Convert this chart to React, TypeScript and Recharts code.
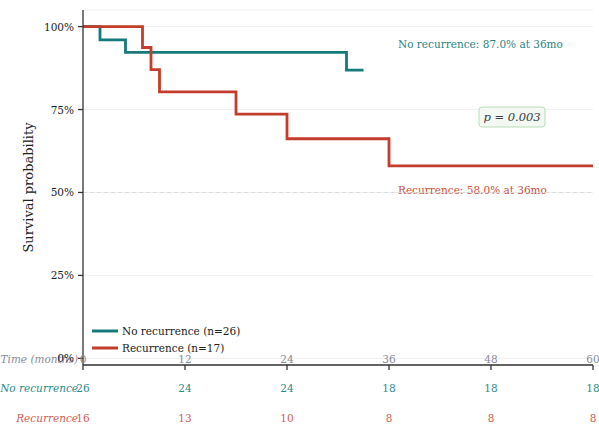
import React from 'react';
import { LineChart, Line, XAxis, YAxis, CartesianGrid, ReferenceLine } from 'recharts';

const tealTimes = [0, 2, 5, 31, 33];
const tealSurv = [1, 0.96, 0.922, 0.869, 0.869];
const redTimes = [0, 7, 8, 9, 18, 24, 36, 60];
const redSurv = [1, 0.937, 0.87, 0.803, 0.736, 0.662, 0.58, 0.58];
const timeTicks = [0, 12, 24, 36, 48, 60];
const yTicks = [0, 0.25, 0.5, 0.75, 1];
const atRiskNo = [26, 24, 24, 18, 18, 18];
const atRiskRec = [16, 13, 10, 8, 8, 8];
const seriesNames = ['No recurrence (n=26)', 'Recurrence (n=17)'];
const rowLabels = ['Time (months)', 'No recurrence', 'Recurrence'];
const annotations = ['No recurrence: 87.0% at 36mo', 'Recurrence: 58.0% at 36mo', 'p = 0.003'];

const TEAL = '#167a7a';
const RED = '#c43c2b';
const FONT = 'DejaVu Serif';
const txt = (size: number, italic = false): React.CSSProperties => ({
  fontFamily: FONT,
  fontSize: size,
  fontStyle: italic ? 'italic' : 'normal',
});

const tealData = tealTimes.map((t, i) => ({ t, s: tealSurv[i] }));
const redData = redTimes.map((t, i) => ({ t, s: redSurv[i] }));

function RiskTick(props: any) {
  const { x, y, payload } = props;
  const i = timeTicks.indexOf(payload.value);
  const rows = [
    { v: payload.value, color: '#8a8a96', dy: -11 },
    { v: atRiskNo[i], color: '#2a8a8a', dy: 18 },
    { v: atRiskRec[i], color: '#d2604e', dy: 48 },
  ];
  return (
    <g>
      {rows.map((r, k) => (
        <g key={k}>
          {i === 0 && (
            <text x={x - 5} y={y + r.dy} textAnchor="end" dominantBaseline="central"
              fill={r.color} style={txt(10.5, true)}>
              {rowLabels[k]}
            </text>
          )}
          <text x={x} y={y + r.dy} textAnchor="middle" dominantBaseline="central"
            fill={r.color} style={txt(10.5)}>
            {r.v}
          </text>
        </g>
      ))}
    </g>
  );
}

function YTick(props: any) {
  const { x, y, payload } = props;
  return (
    <text x={x} y={y} textAnchor="end" dominantBaseline="central" fill="#222" style={txt(10.5)}>
      {`${Math.round(payload.value * 100)}%`}
    </text>
  );
}

export default function App() {
  return (
    <div style={{ position: 'absolute', left: 0, top: 0, fontFamily: FONT, background: '#fff' }}>
      <LineChart width={599} height={424} margin={{ top: 10, right: 6, left: 0, bottom: 0 }}>
        <CartesianGrid horizontal vertical={false} stroke="#f0f0f0" strokeWidth={1} />
        <ReferenceLine y={0.5} stroke="#dcdcdc" strokeDasharray="4 3" />
        <XAxis
          type="number"
          dataKey="t"
          domain={[0, 60]}
          ticks={timeTicks}
          allowDataOverflow
          height={59}
          tickSize={5}
          tickMargin={0}
          axisLine={{ stroke: '#333', strokeWidth: 1.3 }}
          tickLine={{ stroke: '#333', strokeWidth: 1.3 }}
          tick={<RiskTick />}
          interval={0}
        />
        <YAxis
          type="number"
          domain={[-0.02, 1.05]}
          ticks={yTicks}
          allowDataOverflow
          width={83}
          tickSize={5}
          tickMargin={4}
          axisLine={{ stroke: '#333', strokeWidth: 1.3 }}
          tickLine={{ stroke: '#333', strokeWidth: 1.3 }}
          tick={<YTick />}
          label={{ value: 'Survival probability', angle: -90, position: 'insideLeft', offset: 28, style: { textAnchor: 'middle', fontSize: 13, fill: '#222', fontFamily: FONT } }}
        />
        <Line data={tealData} dataKey="s" type="stepAfter" stroke={TEAL} strokeWidth={2.8} dot={false} isAnimationActive={false} />
        <Line data={redData} dataKey="s" type="stepAfter" stroke={RED} strokeWidth={2.8} dot={false} isAnimationActive={false} />
        <text x={398} y={44} dominantBaseline="central" fill="#2a8585" style={txt(10.5)}>{annotations[0]}</text>
        <text x={398} y={190} dominantBaseline="central" fill="#c8503e" style={txt(10.5)}>{annotations[1]}</text>
        <rect x={479} y={107} width={66} height={20} rx={3} fill="#f3f8f2" stroke="#b9dcb9" strokeWidth={1} />
        <text x={512} y={117} textAnchor="middle" dominantBaseline="central" fill="#3a3f4a" style={txt(11.5, true)}>{annotations[2]}</text>
        <line x1={92} x2={118} y1={331} y2={331} stroke={TEAL} strokeWidth={3} />
        <text x={122} y={331} dominantBaseline="central" fill="#222" style={txt(10.5)}>{seriesNames[0]}</text>
        <line x1={92} x2={118} y1={348} y2={348} stroke={RED} strokeWidth={3} />
        <text x={122} y={348} dominantBaseline="central" fill="#222" style={txt(10.5)}>{seriesNames[1]}</text>
      </LineChart>
    </div>
  );
}
